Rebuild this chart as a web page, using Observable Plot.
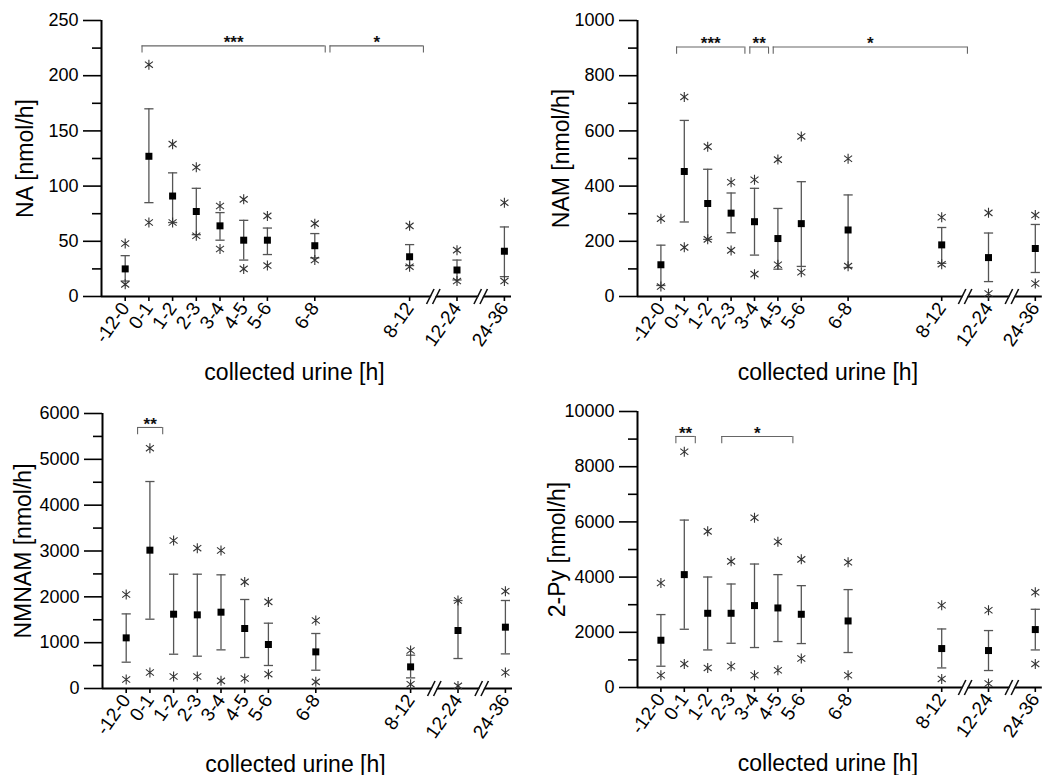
<!DOCTYPE html>
<html><head><meta charset="utf-8">
<script src="https://cdn.jsdelivr.net/npm/d3@7"></script>
<script src="https://cdn.jsdelivr.net/npm/@observablehq/plot@0.6"></script>
<style>
body{margin:0;background:#fff;}
#wrap{position:relative;width:1048px;height:775px;overflow:hidden;background:#fff;}
#wrap svg{position:absolute;font-family:"Liberation Sans",Arial,sans-serif;}
</style></head><body><div id="wrap"></div>
<script>
// ---- data ----
const labels = ["-12-0","0-1","1-2","2-3","3-4","4-5","5-6","6-8","8-12","12-24","24-36"];
const hoursEnd = [0,1,2,3,4,5,6,8,12,24,36];
const breakHours = [18, 30];

const naMedian = [25, 127, 91, 77, 64, 51, 51, 46, 36, 24, 41];
const naUpper  = [37, 170, 112, 98, 76, 69, 62, 57, 47, 33, 63];
const naLower  = [14, 85, 67, 56, 51, 33, 38, 35, 28, 15, 18];
const naMax    = [48, 210, 138, 117, 82, 88, 73, 66, 64, 42, 85];
const naMin    = [11, 67, 67, 55, 43, 25, 28, 33, 27, 14, 14];

const namMedian = [115, 453, 337, 302, 271, 210, 264, 241, 187, 141, 174];
const namUpper  = [186, 638, 461, 375, 392, 319, 416, 368, 250, 230, 261];
const namLower  = [40, 270, 207, 231, 150, 99, 109, 105, 120, 54, 87];
const namMax    = [282, 723, 543, 414, 423, 496, 580, 499, 287, 303, 295];
const namMin    = [36, 178, 207, 167, 81, 115, 88, 110, 117, 11, 47];

const nmnamMedian = [1105, 3018, 1621, 1607, 1665, 1309, 960, 799, 472, 1265, 1338];
const nmnamUpper  = [1628, 4516, 2494, 2494, 2480, 1942, 1425, 1200, 727, 1920, 1920];
const nmnamLower  = [574, 1512, 748, 705, 843, 676, 502, 399, 232, 654, 755];
const nmnamMax    = [2051, 5243, 3229, 3061, 3011, 2326, 1890, 1484, 829, 1920, 2123];
const nmnamMin    = [196, 349, 262, 262, 167, 218, 312, 145, 94, 57, 349];

const pyMedian = [1712, 4090, 2689, 2689, 2968, 2882, 2653, 2411, 1411, 1339, 2099];
const pyUpper  = [2642, 6066, 4003, 3750, 4474, 4090, 3690, 3547, 2121, 2063, 2834];
const pyLower  = [771, 2110, 1361, 1603, 1448, 1665, 1592, 1267, 709, 615, 1361];
const pyMax    = [3786, 8541, 5657, 4571, 6153, 5284, 4643, 4535, 2979, 2798, 3449];
const pyMin    = [445, 854, 709, 771, 445, 626, 1050, 445, 311, 145, 854];

// significance brackets (hours on the broken time axis)
const naBrStart = [0.71, 8.64], naBrEnd = [8.44, 15.5], naBrLevel = [227, 227], naBrText = ["***", "*"];
const namBrStart = [0.67, 3.8, 4.8], namBrEnd = [3.59, 4.6, 18.6], namBrLevel = [904, 904, 904], namBrText = ["***", "**", "*"];
const nmnamBrStart = [0.48], nmnamBrEnd = [1.54], nmnamBrLevel = [5695], nmnamBrText = ["**"];
const pyBrStart = [0.64, 2.6], pyBrEnd = [1.47, 5.64], pyBrLevel = [9095, 9095], pyBrText = ["**", "*"];

const xTitle = "collected urine [h]";

// ---- symbols ----
const starSym = {draw(ctx, size) {
  const r = Math.sqrt(size / Math.PI);
  ctx.moveTo(0, -r); ctx.lineTo(0, r);
  const a = r * 0.8, b = r * 0.62;
  ctx.moveTo(-a, -b); ctx.lineTo(a, b);
  ctx.moveTo(-a, b); ctx.lineTo(a, -b);
}};
const capSym = {draw(ctx, size) {
  const r = Math.sqrt(size / Math.PI);
  ctx.moveTo(-r, 0); ctx.lineTo(r, 0);
}};
const slashSym = {draw(ctx, size) {
  const r = Math.sqrt(size / Math.PI);
  const h = r, s = r * 0.5, d = r * 0.4;
  ctx.moveTo(-d - s, h); ctx.lineTo(-d + s, -h);
  ctx.moveTo(d - s, h); ctx.lineTo(d + s, -h);
}};
const gapSym = {draw(ctx, size) {
  const r = Math.sqrt(size / Math.PI);
  const h = 2.5, d = r * 0.4, s = 0.5 * h;
  ctx.moveTo(-d - s + 1, h); ctx.lineTo(-d + s + 1, -h);
  ctx.lineTo(d + s - 1, -h); ctx.lineTo(d - s - 1, h); ctx.closePath();
}};

const toUnits = h => h <= 12 ? h : 12 + (h - 12) / 6;
const fromUnits = u => u <= 12 ? u : 12 + (u - 12) * 6;

const panels = [
  {title: "NA [nmol/h]", yMax: 250, step: 50, med: naMedian, hi: naUpper, lo: naLower, mx: naMax, mn: naMin,
   br: [naBrStart, naBrEnd, naBrLevel, naBrText], left: 0, top: 0, ml: 101, mt: 20, mb: 91, u: 23.7, ydx: -76},
  {title: "NAM [nmol/h]", yMax: 1000, step: 200, med: namMedian, hi: namUpper, lo: namLower, mx: namMax, mn: namMin,
   br: [namBrStart, namBrEnd, namBrLevel, namBrText], left: 524, top: 0, ml: 113, mt: 20, mb: 91, u: 23.4, ydx: -76},
  {title: "NMNAM [nmol/h]", yMax: 6000, step: 1000, med: nmnamMedian, hi: nmnamUpper, lo: nmnamLower, mx: nmnamMax, mn: nmnamMin,
   br: [nmnamBrStart, nmnamBrEnd, nmnamBrLevel, nmnamBrText], left: 0, top: 392, ml: 102, mt: 21, mb: 91, u: 23.7, ydx: -79},
  {title: "2-Py [nmol/h]", yMax: 10000, step: 2000, med: pyMedian, hi: pyUpper, lo: pyLower, mx: pyMax, mn: pyMin,
   br: [pyBrStart, pyBrEnd, pyBrLevel, pyBrText], left: 524, top: 392, ml: 113, mt: 19, mb: 92, u: 23.4, ydx: -80}
];

const W = 524, H = 387;
const labelOf = new Map(hoursEnd.map((h, i) => [h, labels[i]]));
const wrap = document.getElementById("wrap");

for (const p of panels) {
  const rows = hoursEnd.map((h, i) => ({h, med: p.med[i], hi: p.hi[i], lo: p.lo[i], mx: p.mx[i], mn: p.mn[i]}));
  const [bs, be, bl, bt] = p.br;
  const drop = p.yMax * 0.026;
  const brackets = bs.map((s, i) => ({x1: s, x2: be[i], y: bl[i], y0: bl[i] - drop, t: bt[i],
    lx: fromUnits((toUnits(s) + toUnits(be[i])) / 2)}));
  const frameRight = p.ml + 17.3 * p.u;
  const chart = Plot.plot({
    width: W, height: H,
    marginLeft: p.ml, marginTop: p.mt, marginBottom: p.mb, marginRight: W - frameRight,
    style: {fontFamily: '"Liberation Sans", Arial, sans-serif', background: "transparent"},
    x: {type: "linear", domain: [-1, 12, 24, 36], range: [p.ml, p.ml + 13 * p.u, p.ml + 15 * p.u, p.ml + 17 * p.u]},
    y: {domain: [0, p.yMax]},
    marks: [
      Plot.axisY({ticks: d3.range(p.step / 2, p.yMax, p.step), tickSize: 9, tickFormat: () => "", label: null, strokeWidth: 1.6}),
      Plot.axisY({ticks: d3.range(0, p.yMax + 1, p.step), tickSize: 18, tickPadding: 5, fontSize: 18, tickFormat: d => String(d), label: null, strokeWidth: 1.6}),
      Plot.axisX({ticks: hoursEnd, tickFormat: d => labelOf.get(d), tickSize: 5, tickPadding: 3, tickRotate: -55, fontSize: 19, label: null, strokeWidth: 1.6}),
      Plot.ruleY([0], {strokeWidth: 2}),
      Plot.ruleX([-1], {y1: 0, y2: p.yMax, strokeWidth: 2}),
      Plot.dot(breakHours, {x: d => d, y: 0, symbol: gapSym, r: 8, fill: "white", stroke: "none"}),
      Plot.dot(breakHours, {x: d => d, y: 0, symbol: slashSym, r: 7.5, fill: "none", stroke: "#111", strokeWidth: 1.6}),
      // brackets
      Plot.ruleY(brackets, {y: "y", x1: "x1", x2: "x2", stroke: "#666", strokeWidth: 1.1}),
      Plot.ruleX(brackets, {x: "x1", y1: "y", y2: "y0", stroke: "#666", strokeWidth: 1.1}),
      Plot.ruleX(brackets, {x: "x2", y1: "y", y2: "y0", stroke: "#666", strokeWidth: 1.1}),
      Plot.text(brackets, {x: "lx", y: "y", text: "t", dy: -3, fontSize: 17, fill: "#111", fontWeight: "bold"}),
      // error bars
      Plot.ruleX(rows, {x: "h", y1: "lo", y2: "hi", stroke: "#555", strokeWidth: 1.3}),
      Plot.dot(rows, {x: "h", y: "hi", symbol: capSym, r: 4.6, fill: "none", stroke: "#555", strokeWidth: 1.3}),
      Plot.dot(rows, {x: "h", y: "lo", symbol: capSym, r: 4.6, fill: "none", stroke: "#555", strokeWidth: 1.3}),
      // min / max
      Plot.dot(rows, {x: "h", y: "mx", symbol: starSym, r: 5, fill: "none", stroke: "#333", strokeWidth: 1.1}),
      Plot.dot(rows, {x: "h", y: "mn", symbol: starSym, r: 5, fill: "none", stroke: "#333", strokeWidth: 1.1}),
      // median
      Plot.dot(rows, {x: "h", y: "med", symbol: "square", r: 3.95, fill: "#000", stroke: "none"}),
      // titles
      Plot.text([p.title], {frameAnchor: "left", textAnchor: "middle", dx: p.ydx, rotate: -90, fontSize: 23, fill: "#000"}),
      Plot.text([xTitle], {frameAnchor: "bottom", dx: -12, dy: 83, lineAnchor: "bottom", fontSize: 23, fill: "#000"})
    ]
  });
  chart.style.left = p.left + "px";
  chart.style.top = p.top + "px";
  wrap.appendChild(chart);
}
</script></body></html>
